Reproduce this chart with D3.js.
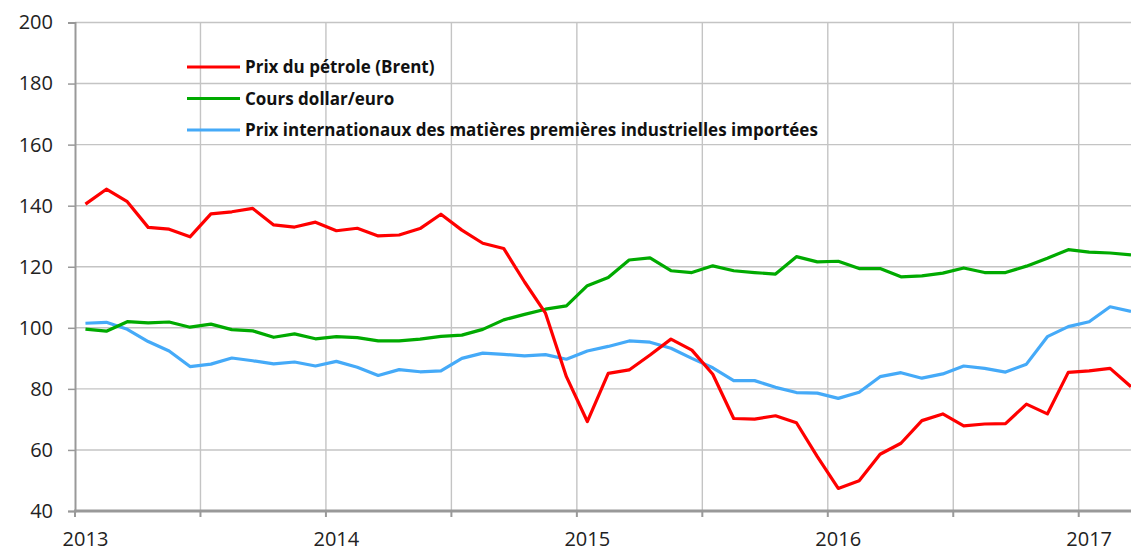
<!DOCTYPE html>
<html>
<head>
<meta charset="utf-8">
<script src="https://cdn.jsdelivr.net/npm/d3@7"></script>
<style>
  body { margin: 0; background: #fff; }
  svg { display: block; font-family: "Open Sans", "Noto Sans", sans-serif; }
</style>
</head>
<body>
<svg id="chart"></svg>
<script>
// monthly values, Jan 2013 .. Mar 2017
const startYear = 2013;
const yearLabels = ["2013", "2014", "2015", "2016", "2017"];
const yTicks = [40, 60, 80, 100, 120, 140, 160, 180, 200];

const brent = [
  140.5, 145.4, 141.3, 132.9, 132.3, 129.8, 137.3, 138.0, 139.1, 133.7, 133.0, 134.6,
  131.8, 132.6, 130.1, 130.4, 132.5, 137.2, 132.0, 127.7, 126.0, 115.0, 104.8, 84.0,
  69.3, 85.1, 86.2, 91.1, 96.3, 92.7, 84.8, 70.3, 70.1, 71.2, 68.9, 57.8,
  47.4, 49.9, 58.6, 62.2, 69.6, 71.8, 67.9, 68.5, 68.6, 75.0, 71.8, 85.4,
  85.9, 86.7, 80.7
];
const dollarEuro = [
  99.6, 98.9, 102.0, 101.6, 101.9, 100.2, 101.2, 99.4, 99.0, 96.9, 98.0, 96.4,
  97.1, 96.8, 95.7, 95.7, 96.3, 97.2, 97.6, 99.5, 102.6, 104.4, 106.1, 107.2,
  113.8, 116.5, 122.2, 122.9, 118.7, 118.1, 120.3, 118.7, 118.1, 117.6, 123.3, 121.6,
  121.8, 119.4, 119.4, 116.7, 117.0, 117.9, 119.6, 118.1, 118.1, 120.2, 122.8, 125.6,
  124.8, 124.5, 123.9
];
const matieres = [
  101.5, 101.8, 99.5, 95.5, 92.4, 87.3, 88.1, 90.1, 89.2, 88.2, 88.8, 87.5,
  89.0, 87.1, 84.4, 86.3, 85.6, 85.9, 90.0, 91.7, 91.3, 90.8, 91.2, 89.7,
  92.4, 93.9, 95.7, 95.3, 93.3, 90.0, 86.9, 82.7, 82.7, 80.5, 78.8, 78.6,
  76.9, 78.9, 84.0, 85.3, 83.5, 84.9, 87.5, 86.7, 85.5, 88.1, 97.1, 100.4,
  102.0, 106.9, 105.4
];

const series = [
  { name: "Prix du pétrole (Brent)", color: "#ff0000", values: brent },
  { name: "Cours dollar/euro", color: "#00aa00", values: dollarEuro },
  { name: "Prix internationaux des matières premières industrielles importées", color: "#45aaf8", values: matieres }
];

const width = 1131, height = 550;
const margin = { top: 22.5, right: 0, bottom: 39, left: 75 };

const svg = d3.select("#chart").attr("width", width).attr("height", height);

// x in months since Jan 2013, points at mid-month
const x = d3.scaleLinear()
  .domain([0, brent.length - 0.5])
  .range([margin.left, width - margin.right]);
const y = d3.scaleLinear()
  .domain([40, 200])
  .range([height - margin.bottom, margin.top]);

const halfYears = d3.range(0, brent.length, 6);

// horizontal grid
svg.append("g")
  .selectAll("line")
  .data(yTicks)
  .enter().append("line")
  .attr("x1", margin.left).attr("x2", width)
  .attr("y1", d => y(d)).attr("y2", d => y(d))
  .attr("stroke", "#c4c4c4").attr("stroke-width", 1.4);

// vertical grid at half years
svg.append("g")
  .selectAll("line")
  .data(halfYears.filter(d => d > 0))
  .enter().append("line")
  .attr("x1", d => x(d)).attr("x2", d => x(d))
  .attr("y1", margin.top).attr("y2", y(40))
  .attr("stroke", "#c4c4c4").attr("stroke-width", 1.4);

// y axis
const yAxis = svg.append("g")
  .attr("transform", `translate(${margin.left},0)`)
  .call(d3.axisLeft(y).tickValues(yTicks).tickSize(7).tickPadding(15));
yAxis.select(".domain").attr("stroke", "#999").attr("stroke-width", 2);
yAxis.selectAll(".tick line").attr("stroke", "#999").attr("stroke-width", 1.5);
yAxis.selectAll("text").attr("font-size", 20).attr("fill", "#222")
  .attr("font-family", "Open Sans, sans-serif");

// x axis line and ticks
svg.append("line")
  .attr("x1", margin.left - 1).attr("x2", width)
  .attr("y1", y(40)).attr("y2", y(40))
  .attr("stroke", "#999").attr("stroke-width", 3);
svg.append("g")
  .selectAll("line")
  .data(halfYears)
  .enter().append("line")
  .attr("x1", d => x(d)).attr("x2", d => x(d))
  .attr("y1", y(40)).attr("y2", y(40) + 6)
  .attr("stroke", "#999").attr("stroke-width", 2);

svg.append("g")
  .selectAll("text")
  .data(yearLabels)
  .enter().append("text")
  .attr("x", (d, i) => x(i * 12 + 0.5))
  .attr("y", height - 4)
  .attr("text-anchor", "middle")
  .attr("font-size", 20)
  .attr("fill", "#222")
  .text(d => d);

// lines
const line = d3.line()
  .x((d, i) => x(i + 0.5))
  .y(d => y(d));

svg.append("clipPath").attr("id", "clip")
  .append("rect")
  .attr("x", margin.left).attr("y", 0)
  .attr("width", width - margin.left).attr("height", height);

const plot = svg.append("g").attr("clip-path", "url(#clip)");
// draw blue first, then green, then red on top
[series[2], series[1], series[0]].forEach(s => {
  plot.append("path")
    .datum(s.values)
    .attr("d", line)
    .attr("fill", "none")
    .attr("stroke", s.color)
    .attr("stroke-width", 3.2)
    .attr("stroke-linejoin", "round");
});

// legend
const legend = svg.append("g").attr("transform", "translate(187,67)");
series.forEach((s, i) => {
  const g = legend.append("g").attr("transform", `translate(0,${i * 31.5})`);
  g.append("line")
    .attr("x1", 0).attr("x2", 53)
    .attr("stroke", s.color).attr("stroke-width", 3.2);
  g.append("text")
    .attr("x", 58).attr("y", 6)
    .attr("font-size", 17)
    .attr("font-weight", "bold")
    .attr("fill", "#111")
    .text(s.name);
});
</script>
</body>
</html>
